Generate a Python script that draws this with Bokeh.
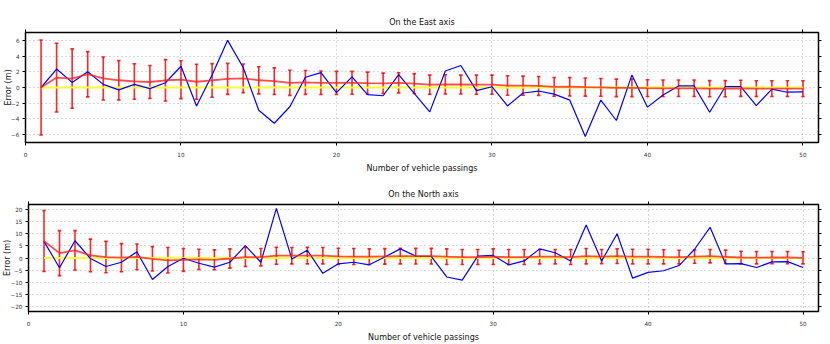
from bokeh.plotting import figure
from bokeh.models import Range1d, LinearAxis, FixedTicker, ColumnDataSource, Whisker, TeeHead
from bokeh.embed import file_html
from bokeh.resources import INLINE

# ---------------- data ----------------
passings = [1, 2, 3, 4, 5, 6, 7, 8, 9, 10, 11, 12, 13, 14, 15, 16, 17, 18, 19, 20,
            21, 22, 23, 24, 25, 26, 27, 28, 29, 30, 31, 32, 33, 34, 35, 36, 37, 38, 39, 40,
            41, 42, 43, 44, 45, 46, 47, 48, 49, 50]

east_error = [0.0, 2.35, 0.65, 2.0, 0.4, -0.3, 0.4, -0.15, 0.6, 2.7,
              -2.35, 1.6, 6.0, 2.55, -2.9, -4.55, -2.45, 1.3, 1.9, -0.65,
              1.35, -0.9, -1.05, 1.65, -0.75, -3.1, 2.1, 2.8, -0.4, 0.1,
              -2.35, -0.7, -0.45, -0.85, -1.6, -6.25, -1.6, -4.2, 1.6, -2.5,
              -0.95, 0.2, 0.2, -3.15, 0.1, 0.1, -2.3, -0.2, -0.6, -0.55]
east_mean = [0.0, 1.26, 1.13, 1.69, 1.15, 0.92, 0.77, 0.7, 0.92, 1.0,
             0.73, 0.9, 1.1, 1.17, 0.92, 0.8, 0.6, 0.65, 0.6, 0.58,
             0.6, 0.55, 0.53, 0.6, 0.5, 0.36, 0.4, 0.38, 0.36, 0.36,
             0.25, 0.23, 0.2, 0.08, 0.1, 0.05, 0.02, -0.05, -0.05, -0.08,
             -0.1, -0.1, -0.1, -0.15, -0.15, -0.1, -0.15, -0.15, -0.15, -0.15]
east_std = [6.05, 4.38, 3.78, 2.88, 2.74, 2.5, 2.26, 2.1, 2.63, 2.41,
            2.22, 2.14, 1.97, 1.82, 1.73, 1.7, 1.6, 1.52, 1.5, 1.47,
            1.45, 1.41, 1.3, 1.28, 1.26, 1.22, 1.22, 1.2, 1.22, 1.22,
            1.24, 1.22, 1.2, 1.2, 1.18, 1.15, 1.13, 1.11, 1.11, 1.07,
            1.05, 1.05, 1.05, 1.03, 1.03, 1.03, 1.0, 1.0, 1.0, 1.0]

north_error = [6.85, -4.0, 7.1, -0.2, -3.5, -1.75, 2.55, -8.85, -3.5, -0.1,
               -2.15, -3.75, -1.75, 5.1, -1.75, 20.4, -0.4, 3.2, -6.3, -2.4,
               -1.75, -2.8, 0.4, 3.75, 0.8, 0.65, -7.8, -9.1, 0.8, 1.05,
               -2.8, -1.2, 3.75, 2.15, -1.2, 13.55, -1.2, 9.95, -8.3, -5.9,
               -5.25, -3.1, 3.6, 12.6, -2.4, -2.3, -3.9, -1.6, -1.5, -3.9]
north_mean = [7.0, 2.0, 3.15, 1.07, 0.4, 0.13, 0.47, -0.34, -0.94, -0.8,
              -0.54, -0.74, -0.2, 0.4, 0.34, 0.94, 0.94, 1.0, 0.94, 0.67,
              0.6, 0.54, 0.67, 0.8, 0.74, 0.74, 0.54, 0.4, 0.4, 0.54,
              0.4, 0.4, 0.54, 0.54, 0.4, 0.74, 0.6, 0.74, 0.6, 0.6,
              0.47, 0.4, 0.6, 0.74, 0.47, 0.2, 0.13, 0.2, 0.2, 0.07]
north_std = [12.55, 9.26, 8.1, 6.7, 6.45, 5.77, 5.3, 5.03, 5.23, 4.7,
             4.16, 4.1, 3.96, 3.9, 3.56, 3.5, 3.36, 3.42, 3.36, 3.36,
             3.3, 3.2, 3.2, 3.2, 3.2, 3.2, 3.2, 3.1, 3.1, 3.2,
             3.1, 3.1, 2.95, 2.95, 3.1, 3.15, 2.9, 3.0, 3.0, 3.0,
             2.9, 2.8, 2.75, 2.75, 2.75, 2.6, 2.55, 2.5, 2.5, 2.5]

zero_x = [1, 50]
zero_y = [0, 0]

x_ticks = [0, 10, 20, 30, 40, 50]
east_ticks = [-6, -4, -2, 0, 2, 4, 6]
north_ticks = [-20, -15, -10, -5, 0, 5, 10, 15, 20]

FONT = "DejaVu Sans"


def make_panel(title, err, mean, std, ylim, yticks, height, b_left, b_top, b_bottom,
               title_standoff, label_standoff, ylabel_standoff):
    p = figure(width=826, height=height, x_range=Range1d(0, 51), y_range=Range1d(-ylim, ylim),
               output_backend="svg", toolbar_location=None, title=title,
               min_border_left=b_left, min_border_right=8, min_border_top=b_top,
               min_border_bottom=b_bottom)
    p.background_fill_color = "white"
    p.border_fill_color = "white"
    p.outline_line_color = "black"
    p.outline_line_width = 1.5

    p.title.text_font = FONT
    p.title.text_font_size = "8px"
    p.title.text_font_style = "normal"
    p.title.text_color = "#111111"
    p.title.align = "center"
    p.title.standoff = title_standoff

    for ax in (p.xaxis[0], p.yaxis[0]):
        ax.axis_line_color = None
        ax.major_tick_out = 3
        ax.major_tick_in = 0
        ax.minor_tick_out = 0
        ax.minor_tick_in = 0
        ax.major_tick_line_color = "black"
        ax.major_label_text_font = FONT
        ax.major_label_text_font_size = "5.7px"
        ax.major_label_text_color = "#333333"
        ax.axis_label_text_font = FONT
        ax.axis_label_text_font_size = "8px"
        ax.axis_label_text_font_style = "normal"
        ax.axis_label_text_color = "#111111"

    p.xaxis[0].ticker = FixedTicker(ticks=x_ticks)
    p.yaxis[0].ticker = FixedTicker(ticks=yticks)
    p.xaxis[0].axis_label = "Number of vehicle passings"
    p.yaxis[0].axis_label = "Error (m)"
    p.xaxis[0].major_label_standoff = 6
    p.xaxis[0].axis_label_standoff = label_standoff
    p.yaxis[0].major_label_standoff = 3
    p.yaxis[0].axis_label_standoff = ylabel_standoff

    # tick marks only (labels not drawn) on the top and right edges
    top_ax = LinearAxis(ticker=FixedTicker(ticks=x_ticks), axis_line_color=None,
                        major_tick_out=3, major_tick_in=0, minor_tick_out=0, minor_tick_in=0,
                        major_label_text_font_size="1px", major_label_text_color=None,
                        major_label_standoff=0)
    right_ax = LinearAxis(ticker=FixedTicker(ticks=yticks), axis_line_color=None,
                          major_tick_out=3, major_tick_in=0, minor_tick_out=0, minor_tick_in=0,
                          major_label_text_font_size="1px", major_label_text_color=None,
                          major_label_standoff=0)
    p.add_layout(top_ax, "above")
    p.add_layout(right_ax, "right")

    p.xgrid.ticker = FixedTicker(ticks=x_ticks)
    p.ygrid.ticker = FixedTicker(ticks=yticks)
    for g in (p.xgrid[0], p.ygrid[0]):
        g.grid_line_color = "#b0b0b0"
        g.grid_line_dash = "1 3"
        g.grid_line_width = 1

    p.line(zero_x, zero_y, line_color="#ffff33", line_width=2)
    p.line(passings, err, line_color="#0000ff", line_width=1.2)
    p.line(passings, mean, line_color="#ff2020", line_width=1.8, line_alpha=0.8)

    src = ColumnDataSource(dict(
        x=passings,
        upper=[m + s for m, s in zip(mean, std)],
        lower=[m - s for m, s in zip(mean, std)],
    ))
    wh = Whisker(source=src, base="x", upper="upper", lower="lower",
                 line_color="#ff0000", line_width=1.6, line_alpha=0.85,
                 upper_head=TeeHead(size=3.5, line_color="#ff0000", line_width=1.6, line_alpha=0.85),
                 lower_head=TeeHead(size=3.5, line_color="#ff0000", line_width=1.6, line_alpha=0.85))
    p.add_layout(wh)
    return p


p1 = make_panel("On the East axis", east_error, east_mean, east_std, 7, east_ticks,
                height=175, b_left=25, b_top=32, b_bottom=33, title_standoff=6,
                label_standoff=4, ylabel_standoff=-5)
p2 = make_panel("On the North axis", north_error, north_mean, north_std, 22, north_ticks,
                height=169, b_left=28, b_top=29, b_bottom=31, title_standoff=6,
                label_standoff=4, ylabel_standoff=-5)

open("out.html", "w").write(file_html([p1, p2], INLINE))
